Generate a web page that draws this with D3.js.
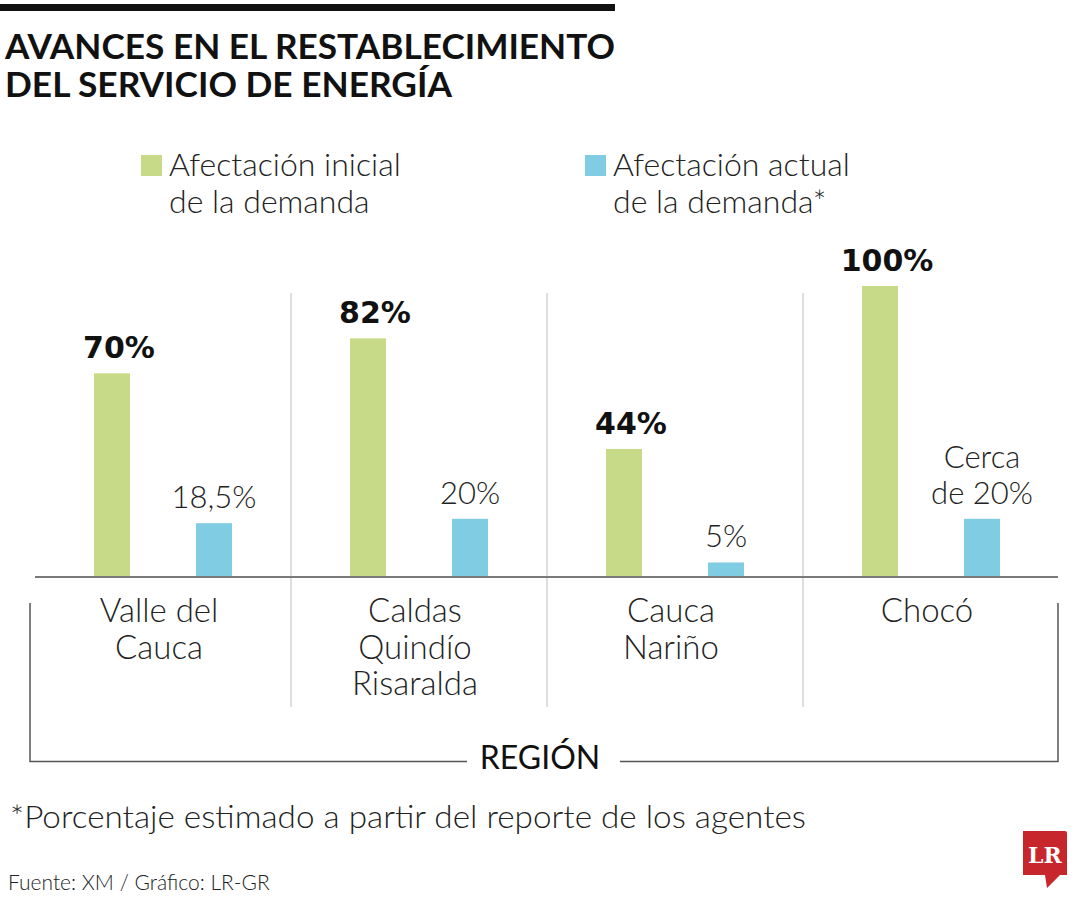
<!DOCTYPE html>
<html>
<head>
<meta charset="utf-8">
<script src="https://cdn.jsdelivr.net/npm/d3@7"></script>
<style>
  html, body { margin: 0; padding: 0; background: #fff; }
  text { font-family: Lato, "Open Sans", sans-serif; }
</style>
</head>
<body>
<div id="chart"></div>
<script>
// data
var regions = ["Valle del Cauca", "Caldas Quindío Risaralda", "Cauca Nariño", "Chocó"];
var regionLines = [["Valle del", "Cauca"], ["Caldas", "Quindío", "Risaralda"], ["Cauca", "Nariño"], ["Chocó"]];
var series = ["inicial", "actual"];
var seriesNames = [["Afectación inicial", "de la demanda"], ["Afectación actual", "de la demanda*"]];
var inicial = [70, 82, 44, 100];
var actual = [18.5, 20, 5, 20];
var inicialLabels = ["70%", "82%", "44%", "100%"];
var actualLabels = [["18,5%"], ["20%"], ["5%"], ["Cerca", "de 20%"]];

var green = "#c6da87", blue = "#80cde3";
var W = 1080, H = 900;

var svg = d3.select("#chart").append("svg")
    .attr("width", W).attr("height", H)
    .attr("xmlns", "http://www.w3.org/2000/svg");

// scales
var x = d3.scaleBand().domain(regions).range([35, 1059]).paddingInner(0).paddingOuter(0);
var xs = d3.scaleBand().domain(series).range([59, 197]).paddingInner(0.647).paddingOuter(0);
var y = d3.scaleLinear().domain([0, 100]).range([577, 286]);

// header
svg.append("rect").attr("x", 0).attr("y", 4).attr("width", 615).attr("height", 7).attr("fill", "#111");
svg.append("text").attr("x", 5).attr("y", 59)
    .style("font-size", "34px").style("font-weight", 700).attr("fill", "#111")
    .attr("textLength", 610).attr("lengthAdjust", "spacingAndGlyphs")
    .text("AVANCES EN EL RESTABLECIMIENTO");
svg.append("text").attr("x", 5).attr("y", 97)
    .style("font-size", "34px").style("font-weight", 700).attr("fill", "#111")
    .attr("textLength", 447).attr("lengthAdjust", "spacingAndGlyphs")
    .text("DEL SERVICIO DE ENERGÍA");

// legend
var legendX = [141, 585];
var lg = svg.selectAll(".legend").data(series).enter().append("g")
    .attr("class", "legend")
    .attr("transform", function (d, i) { return "translate(" + legendX[i] + ",155)"; });
lg.append("rect").attr("width", 21).attr("height", 21)
    .attr("fill", function (d, i) { return i == 0 ? green : blue; });
lg.each(function (d, i) {
    var t = d3.select(this).append("text").attr("x", 28).attr("y", 21)
        .style("font-size", "32px").style("font-weight", 300).attr("fill", "#222");
    seriesNames[i].forEach(function (line, j) {
        t.append("tspan").attr("x", 28).attr("dy", j == 0 ? 0 : 37).text(line);
    });
});

// separators between regions
svg.selectAll(".sep").data(regions.slice(1)).enter().append("line")
    .attr("class", "sep")
    .attr("x1", function (d) { return x(d); }).attr("x2", function (d) { return x(d); })
    .attr("y1", 293).attr("y2", 707)
    .attr("stroke", "#c8c8c8").attr("stroke-width", 1.2);

// bars
var groups = svg.selectAll(".region").data(regions).enter().append("g")
    .attr("class", "region")
    .attr("transform", function (d) { return "translate(" + x(d) + ",0)"; });

groups.append("rect")
    .attr("x", xs("inicial")).attr("width", xs.bandwidth())
    .attr("y", function (d, i) { return y(inicial[i]); })
    .attr("height", function (d, i) { return y(0) - y(inicial[i]); })
    .attr("fill", green);

groups.append("rect")
    .attr("x", xs("actual")).attr("width", xs.bandwidth())
    .attr("y", function (d, i) { return y(actual[i]); })
    .attr("height", function (d, i) { return y(0) - y(actual[i]); })
    .attr("fill", blue);

// value labels
groups.append("text")
    .attr("x", xs("inicial") + xs.bandwidth() / 2 + 7)
    .attr("y", function (d, i) { return y(inicial[i]) - 15; })
    .attr("text-anchor", "middle")
    .style("font-family", "'DejaVu Sans', sans-serif")
    .style("font-size", "30px").style("font-weight", 700).attr("fill", "#111")
    .text(function (d, i) { return inicialLabels[i]; });

groups.each(function (d, i) {
    var lines = actualLabels[i];
    var t = d3.select(this).append("text")
        .attr("text-anchor", "middle")
        .attr("y", y(actual[i]) - 15 - (lines.length - 1) * 36)
        .style("font-size", "31px").style("font-weight", 300).attr("fill", "#222");
    lines.forEach(function (line, j) {
        t.append("tspan").attr("x", xs("actual") + xs.bandwidth() / 2)
            .attr("dy", j == 0 ? 0 : 36).text(line);
    });
});

// baseline
svg.append("line").attr("x1", 35).attr("x2", 1058).attr("y1", y(0)).attr("y2", y(0))
    .attr("stroke", "#7a7a7a").attr("stroke-width", 2);

// region names
groups.each(function (d, i) {
    var t = d3.select(this).append("text")
        .attr("text-anchor", "middle").attr("y", 622)
        .style("font-size", "33px").style("font-weight", 300).attr("fill", "#222");
    regionLines[i].forEach(function (line, j) {
        t.append("tspan").attr("x", x.bandwidth() / 2 - 4).attr("dy", j == 0 ? 0 : 36.5).text(line);
    });
});

// bracket with REGIÓN
var br = svg.append("g").attr("fill", "none").attr("stroke", "#555").attr("stroke-width", 1.5);
br.append("path").attr("d", "M30,603 V761.5 H467");
br.append("path").attr("d", "M620,761.5 H1058 V603");
svg.append("text").attr("x", 540).attr("y", 769).attr("text-anchor", "middle")
    .style("font-size", "32px").style("font-weight", 400).attr("fill", "#111")
    .text("REGIÓN");

// notes
svg.append("text").attr("x", 10).attr("y", 828)
    .style("font-size", "31px").style("font-weight", 300).attr("fill", "#222")
    .attr("textLength", 796).attr("lengthAdjust", "spacingAndGlyphs")
    .text("*Porcentaje estimado a partir del reporte de los agentes");
svg.append("text").attr("x", 8).attr("y", 890)
    .style("font-size", "21px").style("font-weight", 300).attr("fill", "#222")
    .text("Fuente: XM / Gráfico: LR-GR");

// LR logo
svg.append("path")
    .attr("d", "M1023,831 H1065 Q1067,831 1067,833 V875 H1060 L1047,888 L1045,875 H1023 Z")
    .attr("fill", "#c6262c");
svg.append("text").attr("x", 1045).attr("y", 863).attr("text-anchor", "middle")
    .style("font-family", "'DejaVu Serif', serif").style("font-size", "22px").style("font-weight", 700)
    .attr("fill", "#fff").text("LR");
</script>
</body>
</html>
